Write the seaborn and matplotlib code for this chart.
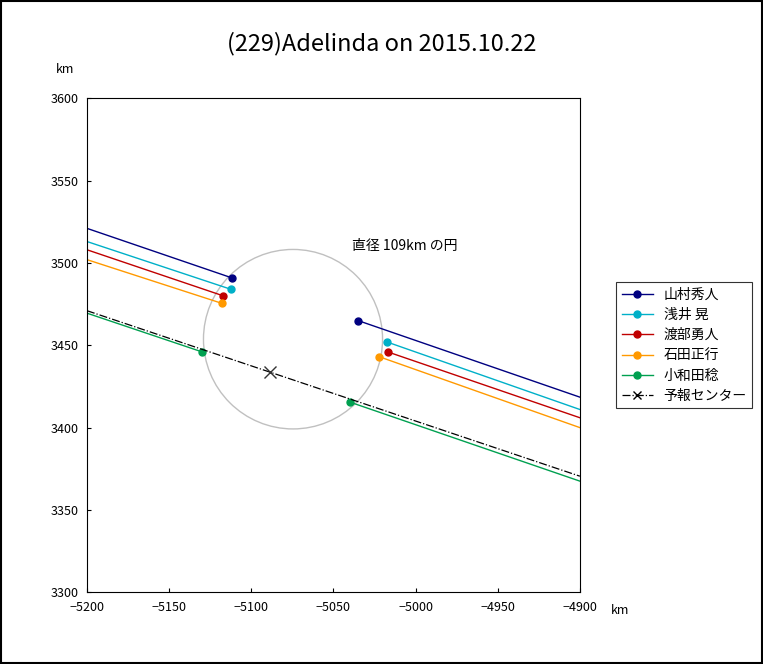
import numpy as np
import pandas as pd
import matplotlib.pyplot as plt
import seaborn as sns
from matplotlib.patches import Circle, Rectangle

plt.rcParams['font.family'] = 'Noto Sans CJK JP'

observers = ['山村秀人', '浅井 晃', '渡部勇人', '石田正行', '小和田稔']
colors = ['#000080', '#00b0c8', '#c00000', '#ff9900', '#00a050']
# chord segments: (x_start, y_start, x_end, y_end) for the left and right parts
left_x0 = [-5200, -5200, -5200, -5200, -5200]
left_y0 = [3521, 3513, 3508, 3502, 3469.5]
left_x1 = [-5112, -5112.4, -5117, -5118, -5130]
left_y1 = [3491, 3484, 3480, 3475.5, 3446]
right_x0 = [-5035, -5017.4, -5017, -5022, -5040]
right_y0 = [3465, 3452, 3446, 3443, 3415.5]
right_x1 = [-4900, -4900, -4900, -4900, -4900]
right_y1 = [3418.5, 3411, 3406, 3400, 3367.5]

center_line_x = [-5200, -4900]
center_line_y = [3471, 3370.5]
center_x, center_y = -5088.6, 3434
circle_x, circle_y, circle_d = -5074.6, 3453.7, 109

fig = plt.figure(figsize=(7.63, 6.64), dpi=100)
ax = fig.add_axes([0.114, 0.108, 0.646, 0.744])

for i, name in enumerate(observers):
    c = colors[i]
    sns.lineplot(x=[left_x0[i], left_x1[i]], y=[left_y0[i], left_y1[i]], ax=ax, color=c, lw=1, sort=False)
    sns.lineplot(x=[right_x0[i], right_x1[i]], y=[right_y0[i], right_y1[i]], ax=ax, color=c, lw=1, sort=False)
    ax.plot([left_x1[i], right_x0[i]], [left_y1[i], right_y0[i]], 'o', color=c, ms=5, ls='none')
    ax.plot([], [], color=c, lw=1, marker='o', ms=5, label=name)

ax.plot(center_line_x, center_line_y, color='black', lw=0.9, ls='-.')
ax.plot([center_x], [center_y], 'x', color='#333333', ms=8, mew=1)
ax.plot([], [], color='black', lw=0.9, ls='-.', marker='x', label='予報センター')
ax.add_patch(Circle((circle_x, circle_y), circle_d / 2, fill=False, ec='#c0c0c0', lw=1))
ax.text(-5039, 3508, '直径 109km の円', fontsize=10, ha='left')

ax.set_xlim(-5200, -4900)
ax.set_ylim(3300, 3600)
ax.set_xticks(np.arange(-5200, -4899, 50))
ax.set_yticks(np.arange(3300, 3601, 50))
ax.set_xticklabels([f'−{abs(v)}' for v in range(-5200, -4899, 50)])
ax.tick_params(labelsize=9, direction='in', length=3)
ax.tick_params(axis='x', pad=6)
ax.tick_params(axis='y', pad=6)
for s in ax.spines.values():
    s.set_linewidth(0.8)

fig.text(0.5, 0.935, '(229)Adelinda on 2015.10.22', ha='center', va='center', fontsize=17)
fig.text(0.073, 0.89, 'km', fontsize=9)
fig.text(0.80, 0.075, 'km', fontsize=9)

leg = ax.legend(loc='center left', bbox_to_anchor=(1.06, 0.5), frameon=True, fancybox=False,
                edgecolor='black', fontsize=10, handlelength=2.2, borderpad=0.4, labelspacing=0.45)
leg.get_frame().set_linewidth(0.8)

fig.patches.append(Rectangle((0.001, 0.001), 0.998, 0.998, transform=fig.transFigure,
                             fill=False, ec='black', lw=1.5))
fig.savefig('out.png', dpi=100)
